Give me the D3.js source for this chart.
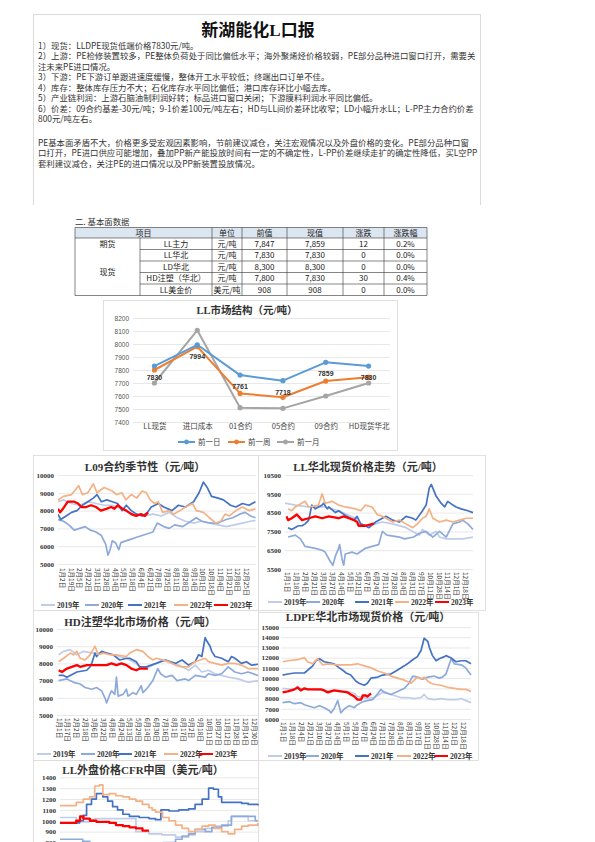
<!DOCTYPE html>
<html><head><meta charset="utf-8">
<script src="https://cdn.jsdelivr.net/npm/d3@7"></script>
<style>body{margin:0;background:#fff}svg{display:block}text{font-family:"Noto Sans CJK SC",sans-serif}</style>
</head><body><script>
// ---------------- DATA ----------------
const reportTitle = '新湖能化L口报';
const reportLines = [
 '1）现货：LLDPE现货低端价格7830元/吨。',
 '2）上游：PE检修装置较多，PE整体负荷处于同比偏低水平；海外聚烯烃价格较弱，PE部分品种进口窗口打开，需要关',
 '注未来PE进口情况。',
 '3）下游：PE下游订单跟进速度缓慢，整体开工水平较低；终端出口订单不佳。',
 '4）库存：整体库存压力不大；石化库存水平同比偏低；港口库存环比小幅去库。',
 '5）产业链利润：上游石脑油制利润好转；标品进口窗口关闭；下游膜料利润水平同比偏低。',
 '6）价差：09合约基差-30元/吨；9-1价差100元/吨左右；HD与LL间价差环比收窄；LD小幅升水LL；L-PP主力合约价差',
 '800元/吨左右。'
];
const summaryLines = [
 'PE基本面矛盾不大，价格更多受宏观因素影响，节前建议减仓，关注宏观情况以及外盘价格的变化。PE部分品种口窗',
 '口打开，PE进口供应可能增加，叠加PP新产能投放时间有一定的不确定性，L-PP价差继续走扩的确定性降低，买L空PP',
 '套利建议减仓，关注PE的进口情况以及PP新装置投放情况。'
];
const sectionTitle = '二. 基本面数据';
const tableHeader = ['项目','单位','前值','现值','涨跌','涨跌幅'];
const tableRows = [
 ['期货','LL主力','元/吨','7,847','7,859','12','0.2%'],
 ['现货','LL华北','元/吨','7,830','7,830','0','0.0%'],
 ['','LD华北','元/吨','8,300','8,300','0','0.0%'],
 ['','HD注塑（华北）','元/吨','7,800','7,830','30','0.4%'],
 ['','LL美金价','美元/吨','908','908','0','0.0%']
];

const structTitle = 'LL市场结构（元/吨）';
const structCategories = ['LL现货','进口成本','01合约','05合约','09合约','HD现货华北'];
const structPrevDay   = [7830,7994,7761,7718,7859,7830];
const structPrevWeek  = [7800,7980,7620,7590,7715,7745];
const structPrevMonth = [7700,8105,7510,7505,7600,7700];
const structNames = ['前一日','前一周','前一月'];
const structYTicks = [7400,7500,7600,7700,7800,7900,8000,8100,8200];

const yearNames = ['2019年','2020年','2021年','2022年','2023年'];

// L09 seasonal  [dayOfYear, value]
const l09Title = 'L09合约季节性（元/吨）';
const l09Labels = ['1月2日','1月19日','2月5日','2月22日','3月11日','3月28日','4月14日','5月1日','5月18日','6月4日','6月21日','7月8日','7月25日','8月11日','8月28日','9月14日','10月1日','10月18日','11月4日','11月21日','12月8日','12月25日'];
const l09YTicks = [5000,6000,7000,8000,9000,10000];
const l09_2019 = [[0,8500],[10,8600],[25,8400],[40,8300],[55,8500],[70,8400],[85,8300],[100,8300],[115,8100],[130,7900],[145,7800],[160,7700],[175,7800],[190,7700],[205,7900],[220,7600],[235,7400],[250,7300],[265,7400],[280,7300],[295,7200],[310,7100],[325,7200],[340,7300],[355,7400],[364,7450]];
const l09_2020 = [[0,7500],[10,7400],[20,7200],[30,6900],[40,7000],[50,7100],[60,6900],[70,6800],[80,6600],[88,6100],[92,5500],[96,5800],[100,6300],[106,6200],[112,5800],[116,6200],[125,6300],[135,6400],[145,6500],[155,6600],[165,6700],[175,6800],[183,7300],[195,7100],[205,7000],[215,7200],[230,7100],[245,7400],[255,7600],[265,7400],[280,7300],[295,7300],[310,7500],[322,7600],[335,7800],[345,7900],[355,7700],[364,7600]];
const l09_2021 = [[0,7800],[5,7500],[15,7700],[25,7900],[35,8000],[45,8300],[55,8500],[65,8700],[72,8900],[80,8500],[90,8600],[100,8500],[110,8400],[118,8000],[126,8300],[135,8000],[145,7800],[155,7700],[165,7900],[172,8200],[185,8400],[195,8200],[210,8000],[222,8300],[235,8200],[250,8500],[260,9000],[268,9600],[275,9300],[283,8800],[295,8700],[305,8600],[318,8300],[328,8200],[340,8400],[352,8300],[364,8500]];
const l09_2022 = [[0,8600],[10,8800],[25,8900],[38,9400],[45,8900],[55,9000],[65,9500],[72,9000],[85,9300],[100,9100],[108,8900],[118,9000],[125,8600],[135,8900],[145,8700],[155,9100],[163,9000],[170,8600],[178,8400],[185,8500],[193,7900],[205,8000],[213,7800],[225,8000],[235,8200],[248,8400],[255,8000],[268,7900],[279,7600],[291,7300],[300,7400],[308,7800],[316,7700],[328,8000],[340,8200],[352,8000],[364,8100]];
const l09_2023 = [[0,8100],[4,7900],[9,8100],[18,8500],[30,8500],[37,8400],[43,8200],[52,8200],[61,8300],[70,8200],[79,8000],[89,8100],[98,8200],[104,8100],[110,8300],[119,8100],[126,8000],[135,7800],[144,7700],[153,7800],[160,7700],[166,7900]];

// LL north China spot
const llnTitle = 'LL华北现货价格走势（元/吨）';
const llnLabels = ['1月1日','1月18日','2月4日','2月21日','3月10日','3月27日','4月14日','5月1日','5月21日','6月7日','6月24日','7月11日','7月28日','8月14日','8月31日','9月17日','10月11日','10月28日','11月14日','12月1日','12月18日'];
const llnYTicks = [5500,6500,7500,8500,9500,10500];
const lln_2019 = [[0,9000],[20,8900],[45,8800],[78,8800],[104,8600],[120,8400],[137,8200],[143,7900],[163,7800],[176,7900],[189,8000],[209,7900],[235,7700],[254,7400],[261,7300],[267,7600],[280,7300],[293,7500],[300,7200],[313,7100],[330,7100],[345,7100],[365,7200]];
const lln_2020 = [[6,7200],[20,7300],[30,7100],[39,6700],[59,6600],[72,6500],[78,6400],[88,5900],[93,5700],[98,6200],[104,6600],[106,6800],[111,6000],[114,5700],[117,6300],[130,6400],[140,6300],[156,6600],[169,6700],[182,6800],[189,7500],[198,7300],[222,7200],[232,7100],[250,7200],[261,7400],[274,7500],[287,7200],[300,7500],[313,7200],[326,7900],[339,8000],[345,8100],[355,7900],[365,7600]];
const lln_2021 = [[6,7700],[13,7600],[26,7800],[33,7800],[39,7900],[46,8100],[52,8900],[59,8700],[72,8900],[75,9000],[82,8700],[85,8800],[98,8500],[104,8600],[120,8300],[134,8100],[140,8300],[147,7900],[156,7800],[163,7700],[176,8000],[189,8200],[196,8300],[209,8100],[222,8000],[235,8300],[248,8200],[254,8100],[267,8600],[274,8900],[280,9800],[284,10000],[287,9800],[293,9400],[303,9000],[310,8800],[316,9100],[326,8900],[332,8800],[342,8700],[355,8600],[365,8500]];
const lln_2022 = [[6,8700],[13,8600],[20,8800],[39,9100],[46,8800],[65,8900],[72,9500],[78,9000],[91,9100],[104,8900],[117,8800],[137,8700],[147,8600],[156,8900],[169,8800],[179,8400],[189,8300],[196,8200],[209,8000],[222,8100],[235,7900],[248,7700],[257,7900],[267,8200],[274,8300],[280,8700],[287,8200],[300,8000],[313,8100],[326,8000],[339,8100],[352,8200],[365,8200]];
const lln_2023 = [[3,8300],[6,8100],[13,8200],[23,8400],[33,8100],[46,8200],[59,8300],[72,8200],[85,8300],[104,8200],[114,8300],[124,8200],[134,8100],[140,8000],[143,7800],[156,7800],[170,7900],[173,7900]];

// HD injection north China
const hdTitle = 'HD注塑华北市场价格（元/吨）';
const hdLabels = ['1月1日','1月17日','2月2日','2月18日','3月6日','3月22日','4月8日','4月24日','5月13日','5月29日','6月14日','6月30日','7月16日','8月1日','8月17日','9月2日','9月18日','10月11日','10月27日','11月12日','11月28日','12月14日','12月30日'];
const hdYTicks = [5000,6000,7000,8000,9000,10000];
const hd_2019 = [[3,8500],[12,8700],[24,8800],[36,8500],[48,8700],[66,8600],[90,8600],[114,8400],[132,8200],[144,8000],[150,7800],[162,7700],[180,8000],[191,8200],[209,8000],[221,7900],[239,7600],[251,7900],[263,7500],[275,7600],[287,7400],[311,7200],[329,7100],[347,6900],[365,7000]];
const hd_2020 = [[3,7000],[18,7100],[30,6900],[42,6800],[51,6600],[63,6500],[72,6600],[81,6400],[87,6000],[90,5700],[96,6200],[99,6400],[105,6200],[108,7200],[111,6100],[120,6200],[126,6500],[129,6100],[138,6300],[144,6200],[153,6700],[156,6300],[165,6600],[174,7000],[183,7700],[188,7400],[197,7200],[209,7300],[218,7000],[233,7100],[239,7000],[251,7300],[269,7200],[275,7400],[287,7300],[299,7400],[311,7800],[323,7500],[335,7400],[347,7500],[365,7300]];
const hd_2021 = [[3,7300],[12,7300],[18,7200],[36,7500],[54,7600],[60,7800],[63,8000],[69,8600],[72,8400],[81,8700],[90,8600],[102,8500],[114,8200],[126,8300],[132,8300],[144,8100],[150,7800],[162,7800],[180,8000],[197,8200],[215,8000],[227,8200],[239,7900],[251,8100],[257,8500],[263,8400],[269,9500],[272,9300],[278,9000],[281,8700],[287,8400],[299,8300],[311,8100],[317,8400],[323,8300],[335,8000],[344,8100],[353,7900],[365,7950]];
const hd_2022 = [[3,8100],[12,8300],[24,8600],[30,8500],[36,8700],[42,8300],[51,8200],[60,8500],[69,9000],[75,8500],[84,8600],[96,8500],[108,8500],[126,8400],[132,8600],[144,8800],[156,8700],[165,8400],[174,8200],[180,8300],[203,8100],[215,7900],[227,7800],[239,7800],[251,8100],[269,8300],[275,8100],[287,8000],[299,7900],[311,8000],[323,8000],[335,7900],[347,7700],[365,7700]];
const hd_2023 = [[3,7600],[9,7500],[18,7700],[27,7800],[36,7900],[42,7800],[54,7900],[72,7900],[90,7900],[99,8000],[108,7900],[117,8000],[126,7900],[135,7700],[144,7600],[150,7700],[165,7700]];

// LDPE north China spot
const ldTitle = 'LDPE华北市场现货价格（元/吨）';
const ldLabels = ['1月1日','1月18日','2月4日','2月21日','3月10日','3月27日','4月14日','5月1日','5月21日','6月7日','6月24日','7月11日','7月28日','8月14日','8月31日','9月17日','10月11日','10月28日','11月14日','12月1日','12月18日'];
const ldYTicks = [6000,7000,8000,9000,10000,11000,12000,13000,14000,15000];
const ld_2019 = [[3,9000],[20,8900],[32,9000],[58,8900],[83,8800],[109,8700],[128,8700],[141,8500],[147,8200],[166,8000],[179,8100],[192,8500],[198,8700],[211,8400],[230,8100],[243,8100],[256,8000],[269,8100],[275,8400],[282,8000],[295,7900],[307,8000],[320,7900],[339,7900],[346,8000],[355,7800],[365,7600]];
const ld_2020 = [[3,7600],[16,7700],[26,7500],[38,7600],[45,7400],[51,7300],[64,7100],[74,7300],[83,7100],[93,6800],[96,6600],[102,7000],[109,7800],[112,7200],[115,6600],[122,7000],[131,7300],[141,7100],[144,7300],[157,7700],[166,7800],[176,7900],[186,8500],[192,8900],[198,8600],[211,8400],[224,8700],[237,9000],[246,9500],[253,10200],[262,10100],[272,9900],[282,10100],[294,10200],[304,10000],[310,10100],[317,10400],[323,11300],[327,11900],[333,11400],[346,11300],[355,11000],[365,10300]];
const ld_2021 = [[3,10300],[13,10400],[26,10500],[45,10500],[61,11200],[67,11700],[74,11900],[83,11600],[102,11400],[112,11000],[118,10800],[125,10500],[134,10300],[144,9700],[150,9500],[160,9300],[166,9500],[173,10000],[186,10100],[195,10300],[211,10400],[224,10800],[237,11200],[243,11400],[253,11800],[262,12100],[269,12700],[275,13900],[282,13600],[285,13000],[291,12200],[298,11700],[304,11900],[314,12100],[317,12200],[326,12000],[336,11600],[346,11700],[355,11700],[365,11400]];
const ld_2022 = [[3,11600],[13,11700],[32,11800],[45,12000],[51,11600],[61,11400],[70,11900],[80,11300],[90,11400],[109,11300],[134,11300],[147,11400],[160,11200],[173,11000],[186,10700],[198,10500],[211,10200],[224,10000],[237,9800],[250,9500],[256,9800],[262,10100],[269,9900],[275,10100],[282,9700],[288,9500],[294,9400],[307,9300],[320,9100],[333,9000],[346,8900],[355,8900],[365,8700]];
const ld_2023 = [[3,8600],[13,8700],[26,8900],[32,9100],[38,8800],[45,9000],[51,8900],[64,8900],[77,8900],[83,8800],[90,8600],[96,8700],[102,8800],[115,8700],[128,8600],[134,8400],[141,8200],[147,7900],[154,7900],[157,8300],[163,8300],[166,8200],[173,8500]];

// LL CFR China (USD/t)
const cfrTitle = 'LL外盘价格CFR中国（美元/吨）';
const cfrYTicks = [800,900,1000,1100,1200,1300,1400];
const cfr_2019 = [[0,1030],[12,1030],[30,990],[55,1010],[64,1020],[134,1020],[140,900],[164,880],[188,870],[213,850],[237,870],[249,900],[268,930],[286,950],[310,1000],[316,1040],[335,1040],[347,1000],[365,1000]];
const cfr_2020 = [[0,830],[30,830],[42,810],[55,780],[100,720],[160,720],[190,800],[213,830],[225,860],[237,880],[249,920],[268,900],[280,940],[298,960],[316,1040],[347,1040],[360,1000],[365,1000]];
const cfr_2021 = [[0,980],[30,980],[36,1000],[43,1050],[49,1150],[58,1200],[67,1250],[79,1220],[88,1180],[97,1130],[106,1100],[116,1060],[128,1040],[146,1030],[164,1020],[176,1010],[186,1100],[201,1090],[219,1100],[237,1110],[249,1150],[262,1200],[274,1300],[283,1290],[292,1220],[298,1170],[316,1170],[335,1160],[347,1150],[365,1140]];
const cfr_2022 = [[0,1140],[12,1140],[30,1170],[43,1200],[55,1220],[64,1320],[73,1330],[79,1240],[91,1250],[103,1230],[116,1220],[128,1200],[140,1180],[152,1150],[164,1120],[170,1100],[176,1080],[189,1030],[201,1000],[213,960],[225,930],[237,900],[249,920],[262,950],[274,960],[286,930],[298,900],[310,880],[322,920],[335,950],[347,960],[365,980]];
const cfr_2023 = [[0,980],[18,980],[30,1000],[37,1040],[43,1020],[55,1000],[67,990],[79,990],[91,980],[103,960],[116,950],[128,940],[140,930],[152,910],[164,910]];

// ---------------- DRAW ----------------
const yearColors = ['#bfcde9','#8eaadb','#4472c4','#f4b183','#ff0000'];
const svg = d3.select('body').append('svg').attr('width',595).attr('height',842);
svg.append('rect').attr('width',595).attr('height',842).attr('fill','#fff');

// report frame
const frame = svg.append('g').attr('stroke','#d0d0d0').attr('stroke-width',0.8);
frame.append('line').attr('x1',33).attr('y1',14.5).attr('x2',480).attr('y2',14.5);
frame.append('line').attr('x1',33.5).attr('y1',14).attr('x2',33.5).attr('y2',205);
frame.append('line').attr('x1',480.5).attr('y1',14).attr('x2',480.5).attr('y2',205);

svg.append('text').attr('x',258).attr('y',36).attr('text-anchor','middle')
  .attr('font-size',17).attr('font-weight','bold').attr('fill','#111')
  .style('font-family','"Liberation Serif","Noto Sans CJK SC"').text(reportTitle);

const lineYs = [48.5,59,69.5,80,90.5,101,111.5,122];
svg.append('g').selectAll('text').data(reportLines).join('text')
  .attr('x',38).attr('y',(d,i)=>lineYs[i]).attr('font-size',8.4).attr('fill','#333').text(d=>d);
const sumYs = [145.5,156,166.5];
svg.append('g').selectAll('text').data(summaryLines).join('text')
  .attr('x',38).attr('y',(d,i)=>sumYs[i]).attr('font-size',8.4).attr('fill','#333').text(d=>d);

// table
svg.append('text').attr('x',75).attr('y',225).attr('font-size',8.4).attr('fill','#333').text(sectionTitle);
const colX = [75,140,212,242,287,343,384,427];
const rowY = [227.5,238,249.5,261,272.5,284,295.5];
const tg = svg.append('g');
tg.append('rect').attr('x',colX[0]).attr('y',rowY[0]).attr('width',colX[7]-colX[0]).attr('height',rowY[1]-rowY[0]).attr('fill','#dce6f1');
const tl = tg.append('g').attr('stroke','#333').attr('stroke-width',0.6);
[0,1,6].forEach(r=>tl.append('line').attr('x1',colX[0]).attr('x2',colX[7]).attr('y1',rowY[r]).attr('y2',rowY[r]));
[2,3,4,5].forEach(r=>tl.append('line').attr('x1',colX[1]).attr('x2',colX[7]).attr('y1',rowY[r]).attr('y2',rowY[r]));
[0,2,3,4,5,6,7].forEach(c=>tl.append('line').attr('x1',colX[c]).attr('x2',colX[c]).attr('y1',rowY[0]).attr('y2',rowY[6]));
tl.append('line').attr('x1',colX[1]).attr('x2',colX[1]).attr('y1',rowY[1]).attr('y2',rowY[6]);
const cellText = (x,y,t)=>tg.append('text').attr('x',x).attr('y',y).attr('text-anchor','middle').attr('dy','0.35em').attr('font-size',8).attr('fill','#222').text(t);
cellText((colX[0]+colX[2])/2,(rowY[0]+rowY[1])/2,tableHeader[0]);
for(let c=1;c<6;c++) cellText((colX[c+1]+colX[c+2])/2,(rowY[0]+rowY[1])/2,tableHeader[c]);
tableRows.forEach((row,r)=>{
  const cy=(rowY[r+1]+rowY[r+2])/2;
  row.forEach((t,c)=>{ if(c===0) return; cellText((colX[c]+colX[c+1])/2,cy,t); });
});
cellText((colX[0]+colX[1])/2,(rowY[1]+rowY[2])/2,tableRows[0][0]);
cellText((colX[0]+colX[1])/2,(rowY[2]+rowY[6])/2,tableRows[1][0]);

// structure chart
(function(){
  const g = svg.append('g');
  g.append('rect').attr('x',103.5).attr('y',300.5).attr('width',294).attr('height',150).attr('fill','#fff').attr('stroke','#d9d9d9').attr('stroke-width',0.8);
  g.append('text').attr('x',247).attr('y',314).attr('text-anchor','middle').attr('font-size',10.5).attr('font-weight','bold').attr('fill','#333')
    .style('font-family','"Liberation Serif","Noto Sans CJK SC"').text(structTitle);
  const x = d3.scalePoint().domain(structCategories).range([133,390]).padding(0.5);
  const y = d3.scaleLinear().domain([7400,8200]).range([422,318]);
  const ya = g.append('g').attr('transform','translate(133,0)').call(d3.axisLeft(y).tickValues(structYTicks).tickSize(-257).tickPadding(4).tickFormat(d3.format('d')));
  ya.select('.domain').remove();
  ya.selectAll('line').attr('stroke','#d9d9d9').attr('stroke-width',0.6);
  ya.selectAll('text').attr('font-size',6.5).attr('fill','#555').style('font-family','"Liberation Sans"');
  const xa = g.append('g').attr('transform','translate(0,422)').call(d3.axisBottom(x).tickSize(0).tickPadding(2));
  xa.select('.domain').remove();
  xa.selectAll('text').attr('font-size',7.5).attr('fill','#444');
  const cols = ['#5b9bd5','#ed7d31','#a5a5a5'];
  const sets = [structPrevDay,structPrevWeek,structPrevMonth];
  const line = d3.line().x((d,i)=>x(structCategories[i])).y(d=>y(d));
  [2,1,0].forEach(k=>{
    g.append('path').datum(sets[k]).attr('d',line).attr('fill','none').attr('stroke',cols[k]).attr('stroke-width',2).attr('stroke-linejoin','round');
    g.selectAll(null).data(sets[k]).join('circle').attr('cx',(d,i)=>x(structCategories[i])).attr('cy',d=>y(d)).attr('r',2.6).attr('fill',cols[k]);
  });
  g.selectAll(null).data(structPrevDay).join('text').attr('x',(d,i)=>x(structCategories[i])).attr('y',d=>y(d)+14)
    .attr('text-anchor','middle').attr('font-size',7).attr('font-weight','bold').attr('fill','#333').style('font-family','"Liberation Sans"').text(d=>d);
  const lx = [178,228,277];
  structNames.forEach((n,k)=>{
    g.append('line').attr('x1',lx[k]).attr('x2',lx[k]+17).attr('y1',442).attr('y2',442).attr('stroke',cols[k]).attr('stroke-width',2);
    g.append('circle').attr('cx',lx[k]+8.5).attr('cy',442).attr('r',2.4).attr('fill',cols[k]);
    g.append('text').attr('x',lx[k]+20).attr('y',442).attr('dy','0.35em').attr('font-size',7.5).attr('fill','#444').text(n);
  });
})();

function seasonal(o){
  const g = svg.append('g');
  g.append('rect').attr('x',o.box[0]+0.5).attr('y',o.box[1]+0.5).attr('width',o.box[2]-o.box[0]).attr('height',o.box[3]-o.box[1])
    .attr('fill','#fff').attr('stroke','#d9d9d9').attr('stroke-width',0.8);
  const x = d3.scaleLinear().domain([0,365]).range([o.plot[0],o.plot[2]]);
  const y = d3.scaleLinear().domain(o.yDomain).range([o.plot[3],o.plot[1]]);
  const ya = g.append('g').attr('transform',`translate(${o.plot[0]},0)`)
    .call(d3.axisLeft(y).tickValues(o.yTicks).tickSize(-(o.plot[2]-o.plot[0])).tickPadding(o.pad||4).tickFormat(d=>String(d)));
  ya.select('.domain').remove();
  ya.selectAll('line').attr('stroke','#d9d9d9').attr('stroke-width',0.6);
  ya.selectAll('text').attr('font-size',7).attr('font-weight','bold').attr('fill','#333').style('font-family','"Liberation Serif"');
  if(o.xLabels){
    const xs = d3.scalePoint().domain(o.xLabels).range(o.xLabelRange);
    const xa = g.append('g').attr('transform',`translate(0,${o.xLabelY})`).call(d3.axisBottom(xs).tickSize(0));
    xa.select('.domain').remove();
    xa.selectAll('text').attr('transform','rotate(90)').attr('text-anchor','start').attr('x',0).attr('y',0).attr('dy','0.35em')
      .attr('font-size',6.5).attr('fill','#333');
  }
  const cid = 'clip'+o.id;
  g.append('clipPath').attr('id',cid).append('rect').attr('x',o.plot[0]).attr('y',o.plot[1]-6).attr('width',o.plot[2]-o.plot[0]+2).attr('height',o.plot[3]-o.plot[1]+12);
  const line = d3.line().x(d=>x(d[0])).y(d=>y(d[1])).curve(o.curve||d3.curveLinear);
  g.append('g').attr('clip-path',`url(#${cid})`).selectAll('path').data(o.series).join('path')
    .attr('d',line).attr('fill','none').attr('stroke',(d,i)=>yearColors[i]).attr('stroke-width',(d,i)=>i===4?2.3:1.7).attr('stroke-linejoin','round');
  g.append('text').attr('x',o.title[1]).attr('y',o.title[2]).attr('text-anchor','middle').attr('font-size',o.titleSize||11).attr('font-weight','bold').attr('fill','#333')
    .style('font-family','"Liberation Serif","Noto Sans CJK SC"').text(o.title[0]);
  if(o.legend){
    yearNames.forEach((n,i)=>{
      const tx=o.legend.xs[i];
      g.append('line').attr('x1',tx-16).attr('x2',tx-2).attr('y1',o.legend.y).attr('y2',o.legend.y).attr('stroke',yearColors[i]).attr('stroke-width',2);
      g.append('text').attr('x',tx).attr('y',o.legend.y).attr('dy','0.35em').attr('font-size',7.5).attr('font-weight','bold').attr('fill','#333')
        .style('font-family','"Liberation Serif","Noto Sans CJK SC"').text(n);
    });
  }
}

seasonal({id:'a',box:[33,455,258,610],plot:[58,475,256,564],yDomain:[5000,10000],yTicks:l09YTicks,
  xLabels:l09Labels,xLabelRange:[61.7,246],xLabelY:568,
  series:[l09_2019,l09_2020,l09_2021,l09_2022,l09_2023],title:[l09Title,145,471],
  legend:{y:605,xs:[57,101,144,190,230]}});
seasonal({id:'b',box:[258,455,485,610],plot:[285,475,473,569],yDomain:[5500,10500],yTicks:llnYTicks,
  xLabels:llnLabels,xLabelRange:[287,465],xLabelY:572,
  series:[lln_2019,lln_2020,lln_2021,lln_2022,lln_2023],title:[llnTitle,368,471],
  legend:{y:602,xs:[284,322,371,411,451]}});
seasonal({id:'c',box:[33,610,258,760],plot:[57,629,258,715],yDomain:[5000,10000],yTicks:hdYTicks,
  xLabels:hdLabels,xLabelRange:[58.3,253.3],xLabelY:718,
  series:[hd_2019,hd_2020,hd_2021,hd_2022,hd_2023],title:[hdTitle,140,626],
  legend:{y:754,xs:[53,97,134,180,215]}});
seasonal({id:'d',box:[258,612,478,760],plot:[281,627,471,719],yDomain:[6000,15000],yTicks:ldYTicks,pad:2,
  xLabels:ldLabels,xLabelRange:[283,463],xLabelY:722,
  series:[ld_2019,ld_2020,ld_2021,ld_2022,ld_2023],title:[ldTitle,368,621],
  legend:{y:756,xs:[284,321,371,413,450]}});
seasonal({id:'e',box:[33,760,258,850],plot:[60,777.3,258,842.5],yDomain:[800,1400],yTicks:cfrYTicks,curve:d3.curveStepAfter,
  series:[cfr_2019,cfr_2020,cfr_2021,cfr_2022,cfr_2023],title:[cfrTitle,143,774]});
</script></body></html>
